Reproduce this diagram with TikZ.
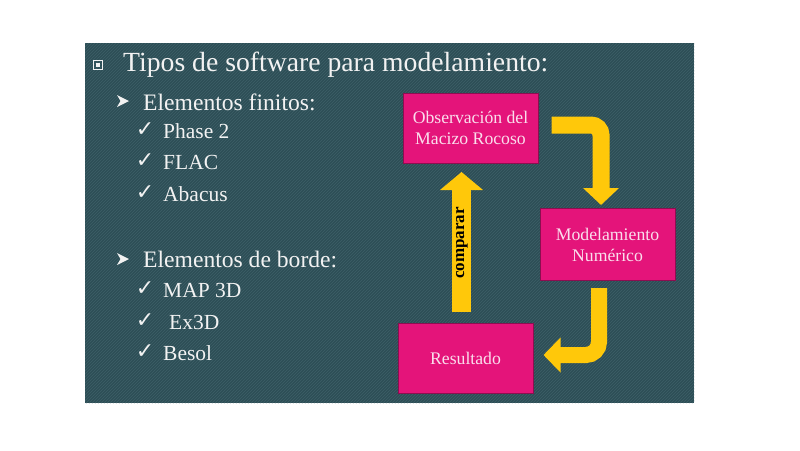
\documentclass[tikz,border=0pt]{standalone}
\usepackage{fontspec}
\setmainfont{Liberation Serif}
\newfontfamily\symf{DejaVu Sans}
\usetikzlibrary{arrows.meta}
\definecolor{slidebg}{RGB}{43,76,84}
\definecolor{hatchc}{RGB}{58,92,100}
\definecolor{boxfill}{RGB}{228,20,122}
\definecolor{boxline}{RGB}{140,14,80}
\definecolor{boxtext}{RGB}{250,222,236}
\definecolor{yel}{RGB}{255,200,10}
\definecolor{txt}{RGB}{242,242,242}
\tikzset{
  pbox/.style={draw=boxline, line width=1pt, fill=boxfill, text=boxtext, align=center, inner sep=0pt, font=\fontsize{17.7}{21}\selectfont},
  ltxt/.style={anchor=base west, text=txt, inner sep=0pt},
  ttl/.style={ltxt, font=\fontsize{27.7}{33}\selectfont},
  lvone/.style={ltxt, font=\fontsize{23.6}{28}\selectfont},
  lvtwo/.style={ltxt, font=\fontsize{21.5}{26}\selectfont},
  chk/.style={text=txt, inner sep=0pt, font=\symf\bfseries\fontsize{22}{24}\selectfont},
  yarrow/.style={draw=yel, line width=#1},
  dart/.pic={\fill[txt] (-6,-6) -- (6,0) -- (-6,6) -- (-2.5,0) -- cycle;},
}
\begin{document}
\begin{tikzpicture}[x=1pt,y=-1pt]
\useasboundingbox (0,0) rectangle (800,450);
\fill[white] (0,0) rectangle (800,450);
% slide background
\fill[slidebg] (85,43) rectangle (694,403);
\begin{scope}
\clip (85,43) rectangle (694,403);
\foreach \i in {-280,-277,...,700} \draw[hatchc, line width=0.8pt] (\i,403) -- (\i+360,43);
\end{scope}
% title bullet
\draw[txt, line width=1.1pt] (93.5,60.5) rectangle (102.5,69.5);
\fill[txt] (96.3,63.3) rectangle (99.7,66.7);
\node[ttl] (title) at (123,71) {Tipos de software para modelamiento:};
% level 1 and 2
\pic at (123,101) {dart};
\node[lvone] (ef) at (143,110) {Elementos finitos:};
\node[chk] (c1) at (145,130) {✓};
\node[lvtwo] (t1) at (163,138) {Phase 2};
\node[chk] (c2) at (145,161) {✓};
\node[lvtwo] (t2) at (163,169) {FLAC};
\node[chk] (c3) at (145,193) {✓};
\node[lvtwo] (t3) at (163,201) {Abacus};
\pic at (123,259) {dart};
\node[lvone] (eb) at (143,267) {Elementos de borde:};
\node[chk] (c4) at (145,289) {✓};
\node[lvtwo] (t4) at (163,297) {MAP 3D};
\node[chk] (c5) at (145,321) {✓};
\node[lvtwo] (t5) at (169,329) {Ex3D};
\node[chk] (c6) at (145,352) {✓};
\node[lvtwo] (t6) at (163,360) {Besol};
% boxes
\node[pbox, minimum width=135pt, minimum height=70pt] (obs) at (470.5,128) {Observación del\\Macizo Rocoso};
\node[pbox, minimum width=135pt, minimum height=72pt] (mod) at (607.5,244.5) {Modelamiento\\Numérico};
\node[pbox, minimum width=135pt, minimum height=70pt] (res) at (465.5,358) {Resultado};
% arrows
\coordinate (a1s) at ([xshift=13pt]obs.east |- 0,125);
\coordinate (a1e) at (601,205);
\draw[yarrow=17pt, rounded corners=10, -{Triangle[width=35pt,length=17pt]}] (a1s) -| (a1e);
\coordinate (a2s) at (599,288);
\coordinate (a2e) at ([xshift=10pt]res.east |- 0,355);
\draw[yarrow=16pt, rounded corners=13, -{Triangle[width=34pt,length=17pt]}] (a2s) |- (a2e);
\coordinate (a3s) at (461.5,312);
\coordinate (a3e) at (461.5,172);
\draw[yarrow=19pt, -{Triangle[width=42pt,length=18pt]}] (a3s) -- (a3e);
\node[rotate=90, font=\bfseries\fontsize{17}{20}\selectfont, text=black, inner sep=0pt] (cmp) at (462,243) {comparar};
\end{tikzpicture}
\end{document}
